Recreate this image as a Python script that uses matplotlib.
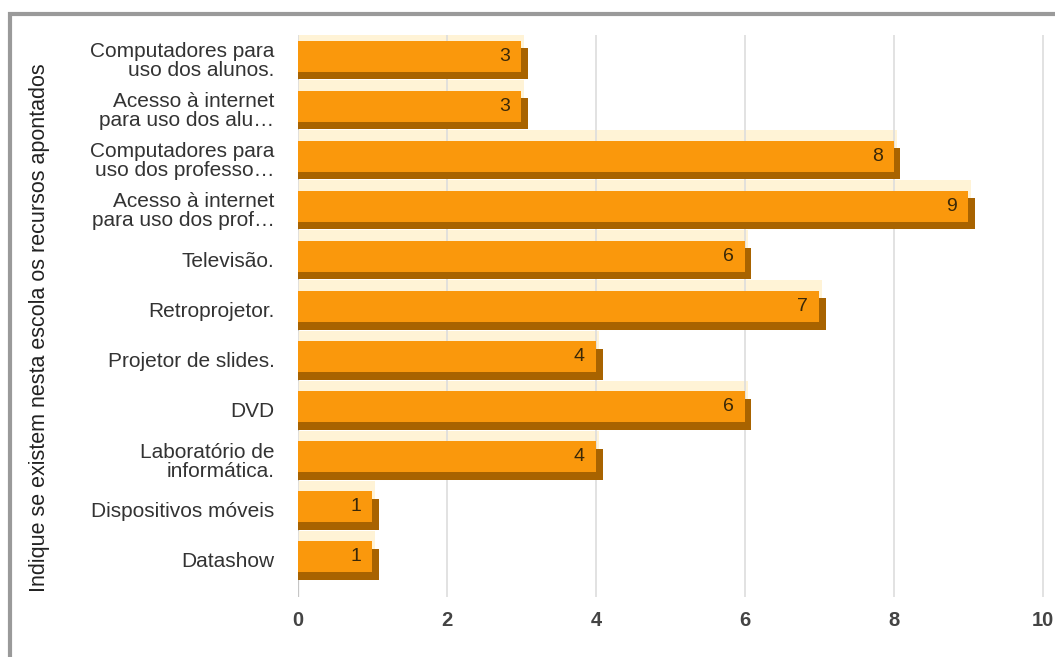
import matplotlib
matplotlib.use("Agg")
import matplotlib.pyplot as plt
from matplotlib.patches import Rectangle

plt.rcParams['font.family'] = ['Liberation Sans', 'DejaVu Sans']

labels = [
    "Computadores para\nuso dos alunos.",
    "Acesso à internet\npara uso dos alu…",
    "Computadores para\nuso dos professo…",
    "Acesso à internet\npara uso dos prof…",
    "Televisão.",
    "Retroprojetor.",
    "Projetor de slides.",
    "DVD",
    "Laboratório de\ninformática.",
    "Dispositivos móveis",
    "Datashow",
]
counts = [3, 3, 8, 9, 6, 7, 4, 6, 4, 1, 1]
xticks = [0, 2, 4, 6, 8, 10]
axis_title = "Indique se existem nesta escola os recursos apontados"

face = "#FA980C"
side = "#A86300"
glow = "#FFF3D6"

fig = plt.figure(figsize=(10.55, 6.57), dpi=100)
ax = fig.add_axes([298 / 1055, 1 - 597 / 657, 752 / 1055, 562 / 657])

ypos = list(range(len(counts)))
h = 0.62
dx, dy = 0.09, 0.15

# soft glow behind each bar, then the dark side, then the front face
ax.barh([y - 0.06 for y in ypos], [c + 0.04 for c in counts], height=h + 0.3,
        left=0, color=glow, zorder=1)
ax.barh([y + dy for y in ypos], [c + dx for c in counts], height=h, left=0,
        color=side, zorder=2)
ax.barh(ypos, counts, height=h, color=face, zorder=3)

for y, c in zip(ypos, counts):
    ax.text(c - 0.22, y, str(c), ha='center', va='center',
            fontsize=14, color='#3a2808', zorder=4)

ax.set_xlim(0, 10.1)
ax.set_ylim(10.8, -0.42)
ax.set_xticks(xticks)
ax.set_xticklabels([str(v) for v in xticks], fontsize=14.5,
                   fontweight='bold', color='#444444')
ax.set_yticks([y + 0.06 for y in ypos])
ax.set_yticklabels(labels, fontsize=15, color='#333333', linespacing=1.0)
ax.tick_params(axis='y', length=0, pad=17)
ax.tick_params(axis='x', length=0, pad=10)

ax.grid(axis='x', color='#dddddd', linewidth=1.2, zorder=0)
ax.axvline(0, color='#555555', linewidth=1.5, zorder=0.5)
for s in ax.spines.values():
    s.set_visible(False)

fig.text(40 / 1055, 1 - 328 / 657, axis_title, rotation=90, ha='center',
         va='center', fontsize=15.5, color='#222222')

# grey frame running off the right and bottom edges
fig.patches.append(Rectangle((10 / 1055, -0.1), 1.2, 1.1 - 14 / 657,
                             transform=fig.transFigure, fill=False,
                             edgecolor='#9a9a9a', linewidth=3))

fig.savefig("out.png", dpi=100)
